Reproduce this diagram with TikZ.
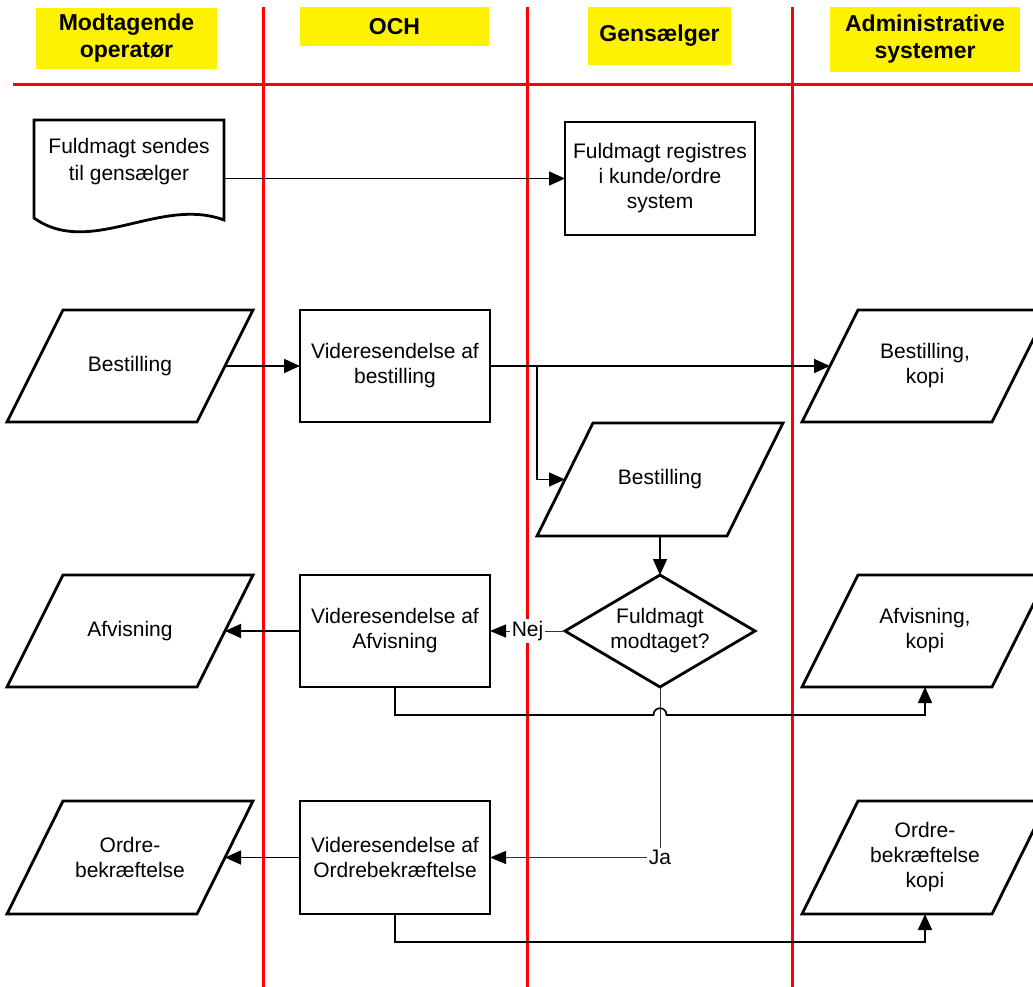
\documentclass[tikz,border=0pt]{standalone}
\usepackage{fontspec}
\setmainfont{Liberation Sans}
\usetikzlibrary{arrows.meta,calc}
\newcommand{\paraoutline}[1]{\draw[shapeline] ([xshift=28pt]#1.north west) -- ([xshift=28pt]#1.north east) -- ([xshift=-28pt]#1.south east) -- ([xshift=-28pt]#1.south west) -- cycle;}
\begin{document}
\begin{tikzpicture}[x=1pt,y=-1pt,
  lane/.style={draw=red,line width=3pt},
  hdr/.style={fill=yellow,inner sep=0pt,outer sep=0pt,align=center,font=\fontsize{23}{27}\selectfont\bfseries},
  boxnode/.style={draw,line width=2.8pt,fill=white,minimum width=190pt,minimum height=112pt,inner sep=0pt,outer sep=0pt,align=center,font=\fontsize{21}{25}\selectfont},
  area/.style={minimum width=190pt,minimum height=112pt,inner sep=0pt,outer sep=0pt,align=center,font=\fontsize{21}{25}\selectfont},
  shapeline/.style={draw,line width=2.8pt},
  conn/.style={line width=1.7pt,-{Triangle[length=16pt,width=14pt]}},
  thinconn/.style={line width=1pt,draw=black!80,-{Triangle[length=16pt,width=13pt,color=black]}},
  lbl/.style={fill=white,inner sep=2pt,font=\fontsize{21}{25}\selectfont}
]
\useasboundingbox (0,0) rectangle (1033,987);
\clip (0,0) rectangle (1033,987);

% swim lanes
\draw[lane] (13,85) -- (1033,85);
\foreach \x in {263,527,792} \draw[lane] (\x,7) -- (\x,987);

% headers
\node[hdr,minimum width=181pt,minimum height=61pt] (h1) at (126.5,38.5) {Modtagende\\operatør};
\node[hdr,minimum width=189pt,minimum height=39pt] (h2) at (394.5,26.5) {OCH};
\node[hdr,minimum width=143pt,minimum height=58pt] (h3) at (659.5,36) {Gensælger};
\node[hdr,minimum width=190pt,minimum height=65pt] (h4) at (925,39.5) {Administrative\\systemer};

% row 1
\node[area,minimum height=84pt,font=\fontsize{21}{27}\selectfont] (doc) at (129,162) {Fuldmagt sendes\\til gensælger};
\draw[shapeline] (doc.north west) -- (doc.north east) -- ([yshift=-16pt]doc.south east) .. controls (160,196) and (90,258) .. ([yshift=-14pt]doc.south west) -- cycle;
\node[boxnode,minimum height=113pt] (reg) at (660,178.5) {Fuldmagt registres\\i kunde/ordre\\system};
\draw[conn] (doc.east |- reg.west) -- (reg.west);

% row 2
\node[area] (p1) at (130,366) {Bestilling};
\paraoutline{p1}
\node[boxnode] (b1) at (395,366) {Videresendelse af\\bestilling};
\node[area] (p2) at (925,366) {Bestilling,\\kopi};
\paraoutline{p2}
\node[area,minimum height=113pt] (p3) at (660,479.5) {Bestilling};
\paraoutline{p3}
\node[area] (dia) at (660,631) {Fuldmagt\\modtaget?};
\draw[shapeline] (dia.north) -- (dia.east) -- (dia.south) -- (dia.west) -- cycle;

% row 3
\node[area] (p4) at (130,631) {Afvisning};
\paraoutline{p4}
\node[boxnode] (b2) at (395,631) {Videresendelse af\\Afvisning};
\node[area] (p5) at (925,631) {Afvisning,\\kopi};
\paraoutline{p5}

% row 4
\node[area,minimum height=113pt] (p6) at (130,857.5) {Ordre-\\bekræftelse};
\paraoutline{p6}
\node[boxnode,minimum height=113pt] (b3) at (395,857.5) {Videresendelse af\\Ordrebekræftelse};
\node[area,minimum height=113pt] (p7) at (925,857.5) {Ordre-\\bekræftelse\\kopi};
\paraoutline{p7}

% connectors
\draw[conn] (p1.east) -- (b1.west);
\draw[conn] (b1.east) -- (p2.west);
\draw[conn] (b1.east) -| ([xshift=-28pt]p3.west) -- (p3.west);
\draw[conn] (p3.south) -- (dia.north);
\draw[thinconn] (dia.west) -- node[lbl] (nej) {Nej} (b2.east);
\draw[conn] (b2.west) -- (p4.east);
\draw[thinconn] (dia.south) |- node[lbl,pos=0.5] (ja) {Ja} (b3.east);
\coordinate (c1) at ([yshift=-28pt]b2.south);
\coordinate (jx) at (c1 -| dia.south);
\draw[conn] (b2.south) -- (c1) -- ([xshift=-6.5pt]jx) .. controls ([xshift=-6.5pt,yshift=9pt]jx) and ([xshift=6.5pt,yshift=9pt]jx) .. ([xshift=6.5pt]jx) -| (p5.south);
\draw[conn] (b3.west) -- (p6.east);
\coordinate (c2) at ([yshift=-28pt]b3.south);
\draw[conn] (b3.south) -- (c2) -| (p7.south);
\end{tikzpicture}
\end{document}
